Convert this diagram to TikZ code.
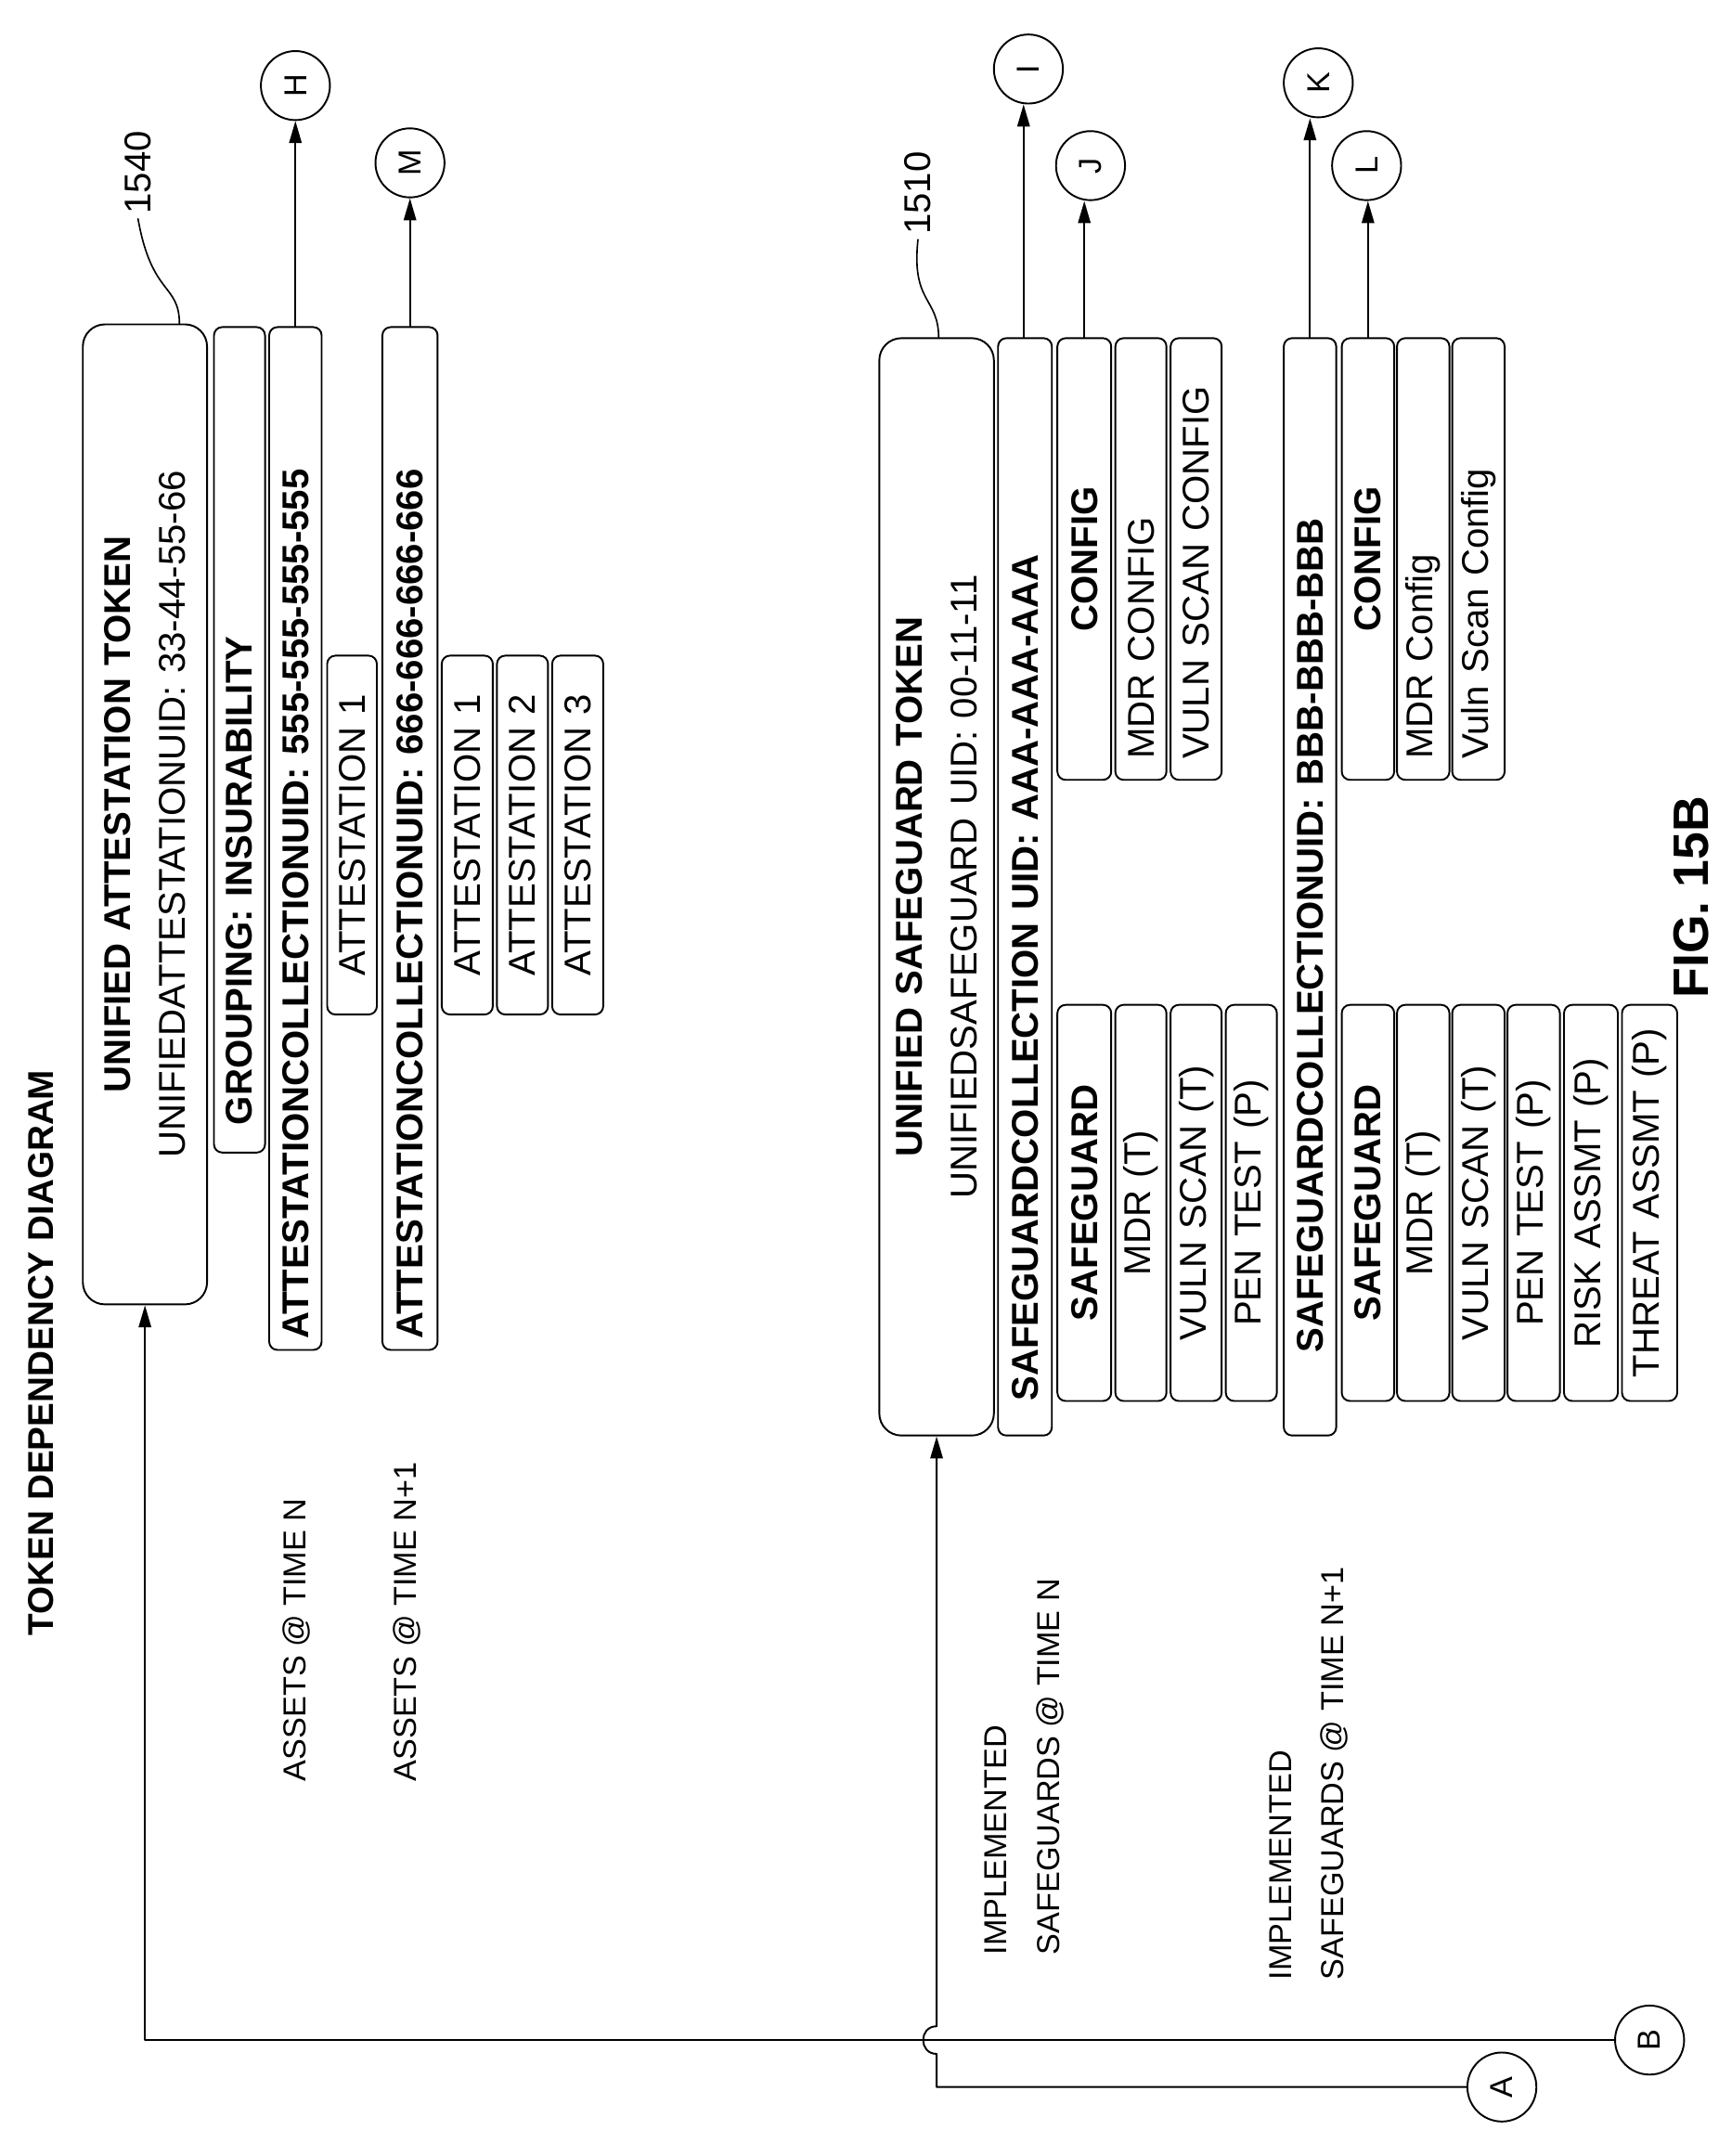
\documentclass[tikz,border=0pt]{standalone}
\usepackage{fontspec}
\setmainfont{Liberation Sans}
\usetikzlibrary{arrows.meta,calc}

\newcommand\fs{\fontsize{23}{38}\selectfont}
\newcommand\bfs{\fontsize{27}{40}\selectfont}
\tikzset{
  box/.style={draw, rounded corners=6pt, rotate=90, inner sep=0pt, line width=1.3pt, align=left, font=\bfs},
  bigbox/.style={rounded corners=16pt, align=center},
  mid/.style={align=center},
  conn/.style={draw, circle, rotate=90, minimum size=50pt, inner sep=0pt, line width=1.3pt, font=\fs},
  lbl/.style={rotate=90, align=left, font=\fs},
  arr/.style={line width=1.3pt, -{Triangle[length=16pt,width=9pt]}},
}
% box from page x1..x2, y1..y2 (y down), text starting pad above the bottom edge
\newcommand\tbox[8]{%
  \pgfmathsetmacro\bxlen{#5-#4}\pgfmathsetmacro\bxthk{#3-#2}\pgfmathsetmacro\bxtw{#5-#4-2*#6}%
  \node[box,#7,minimum width=\bxlen pt,minimum height=\bxthk pt,text width=\bxtw pt]
    (#1) at ({(#2+#3)/2},{(#4+#5)/2}) {#8};}

\begin{document}
\begin{tikzpicture}[x=1pt, y=-1pt, line cap=round, line join=round]
  \useasboundingbox (0,0) rectangle (1245,1562);

  % Title
  \node[lbl, font=\fontsize{26}{30}\selectfont\bfseries] (title) at (30,980) {TOKEN DEPENDENCY DIAGRAM};

  % Attestation token 1540
  \tbox{u1540}{60}{150}{235}{945}{10}{bigbox}{\textbf{UNIFIED ATTESTATION TOKEN}\\UNIFIEDATTESTATIONUID: 33-44-55-66}
  \tbox{grp}{155}{192}{237}{835}{20}{}{\textbf{GROUPING: INSURABILITY}}
  \tbox{ac1}{195}{233}{237}{978}{8}{}{\textbf{ATTESTATIONCOLLECTIONUID: 555-555-555-555}}
  \tbox{at11}{237}{273}{475}{735}{5}{mid}{ATTESTATION 1}
  \tbox{ac2}{277}{317}{237}{978}{8}{}{\textbf{ATTESTATIONCOLLECTIONUID: 666-666-666-666}}
  \tbox{at21}{320}{357}{475}{735}{5}{mid}{ATTESTATION 1}
  \tbox{at22}{360}{397}{475}{735}{5}{mid}{ATTESTATION 2}
  \tbox{at23}{400}{437}{475}{735}{5}{mid}{ATTESTATION 3}

  \node[lbl, font=\fontsize{27}{30}\selectfont] (n1540) at (100,125) {1540};
  \coordinate (lead1540) at (130,235);
  \draw[line width=1.1pt] (lead1540) .. controls (130,205) and (110,215) .. (n1540.west);

  \node[lbl] (assetsN) at (215,1188) {ASSETS @ TIME N};
  \node[lbl] (assetsN1) at (295,1175) {ASSETS @ TIME N+1};

  % Safeguard token 1510
  \tbox{u1510}{637}{720}{245}{1040}{10}{bigbox}{\textbf{UNIFIED SAFEGUARD TOKEN}\\UNIFIEDSAFEGUARD UID: 00-11-11}
  \tbox{sc1}{723}{762}{245}{1040}{25}{}{\textbf{SAFEGUARDCOLLECTION UID: AAA-AAA-AAA}}
  \tbox{cf1}{766}{805}{245}{565}{10}{mid}{\textbf{CONFIG}}
  \tbox{cf1a}{808}{845}{245}{565}{15}{}{MDR CONFIG}
  \tbox{cf1b}{848}{885}{245}{565}{15}{}{VULN SCAN CONFIG}
  \tbox{sg1}{766}{805}{728}{1015}{5}{mid}{\textbf{SAFEGUARD}}
  \tbox{sg1a}{808}{845}{728}{1015}{5}{mid}{MDR (T)}
  \tbox{sg1b}{848}{885}{728}{1015}{5}{mid}{VULN SCAN (T)}
  \tbox{sg1c}{888}{925}{728}{1015}{5}{mid}{PEN TEST (P)}

  \node[lbl, font=\fontsize{27}{30}\selectfont] (n1510) at (665,140) {1510};
  \coordinate (lead1510) at (680,245);
  \draw[line width=1.1pt] (lead1510) .. controls (680,215) and (660,220) .. (n1510.west);

  \node[lbl] (implN) at (742,1280) {IMPLEMENTED\\SAFEGUARDS @ TIME N};

  \tbox{sc2}{930}{968}{245}{1040}{60}{}{\textbf{SAFEGUARDCOLLECTIONUID: BBB-BBB-BBB}}
  \tbox{cf2}{972}{1010}{245}{565}{10}{mid}{\textbf{CONFIG}}
  \tbox{cf2a}{1012}{1050}{245}{565}{15}{}{MDR Config}
  \tbox{cf2b}{1052}{1090}{245}{565}{15}{}{Vuln Scan Config}
  \tbox{sg2}{972}{1010}{728}{1015}{5}{mid}{\textbf{SAFEGUARD}}
  \tbox{sg2a}{1012}{1050}{728}{1015}{5}{mid}{MDR (T)}
  \tbox{sg2b}{1052}{1090}{728}{1015}{5}{mid}{VULN SCAN (T)}
  \tbox{sg2c}{1092}{1130}{728}{1015}{5}{mid}{PEN TEST (P)}
  \tbox{sg2d}{1133}{1172}{728}{1015}{5}{mid}{RISK ASSMT (P)}
  \tbox{sg2e}{1175}{1215}{728}{1015}{5}{mid}{THREAT ASSMT (P)}

  \node[lbl] (implN1) at (948,1285) {IMPLEMENTED\\SAFEGUARDS @ TIME N+1};

  \node[lbl, font=\fontsize{36}{40}\selectfont\bfseries] (fig) at (1225,650) {FIG. 15B};

  % Off-page connectors
  \node[conn] (H) at (214,62) {H};
  \node[conn] (M) at (297,118) {M};
  \node[conn] (I) at (745,50) {I};
  \node[conn] (J) at (790,120) {J};
  \node[conn] (K) at (955,60) {K};
  \node[conn] (L) at (990,120) {L};
  \node[conn] (A) at (1088,1512) {A};
  \node[conn] (B) at (1195,1478) {B};

  \draw[arr] (ac1.east) -- (ac1.east |- H.west);
  \draw[arr] (ac2.east) -- (ac2.east |- M.west);
  \draw[arr] ([xshift=-1pt]sc1.east) -- ([xshift=-1pt]sc1.east |- I.west);
  \draw[arr] (cf1.east) -- (cf1.east |- J.west);
  \draw[arr] (sc2.east) -- (sc2.east |- K.west);
  \draw[arr] (cf2.east) -- (cf2.east |- L.west);

  % Inputs A and B
  \draw[arr] (B.north) -- (u1540.west |- B.north) -- (u1540.west);
  \draw[arr] (A.north) -- (u1510.west |- A.north) -- ++(0,-24)
    .. controls ++(-13,0) and ++(-13,0) .. ++(0,-20) -- (u1510.west);
\end{tikzpicture}
\end{document}
